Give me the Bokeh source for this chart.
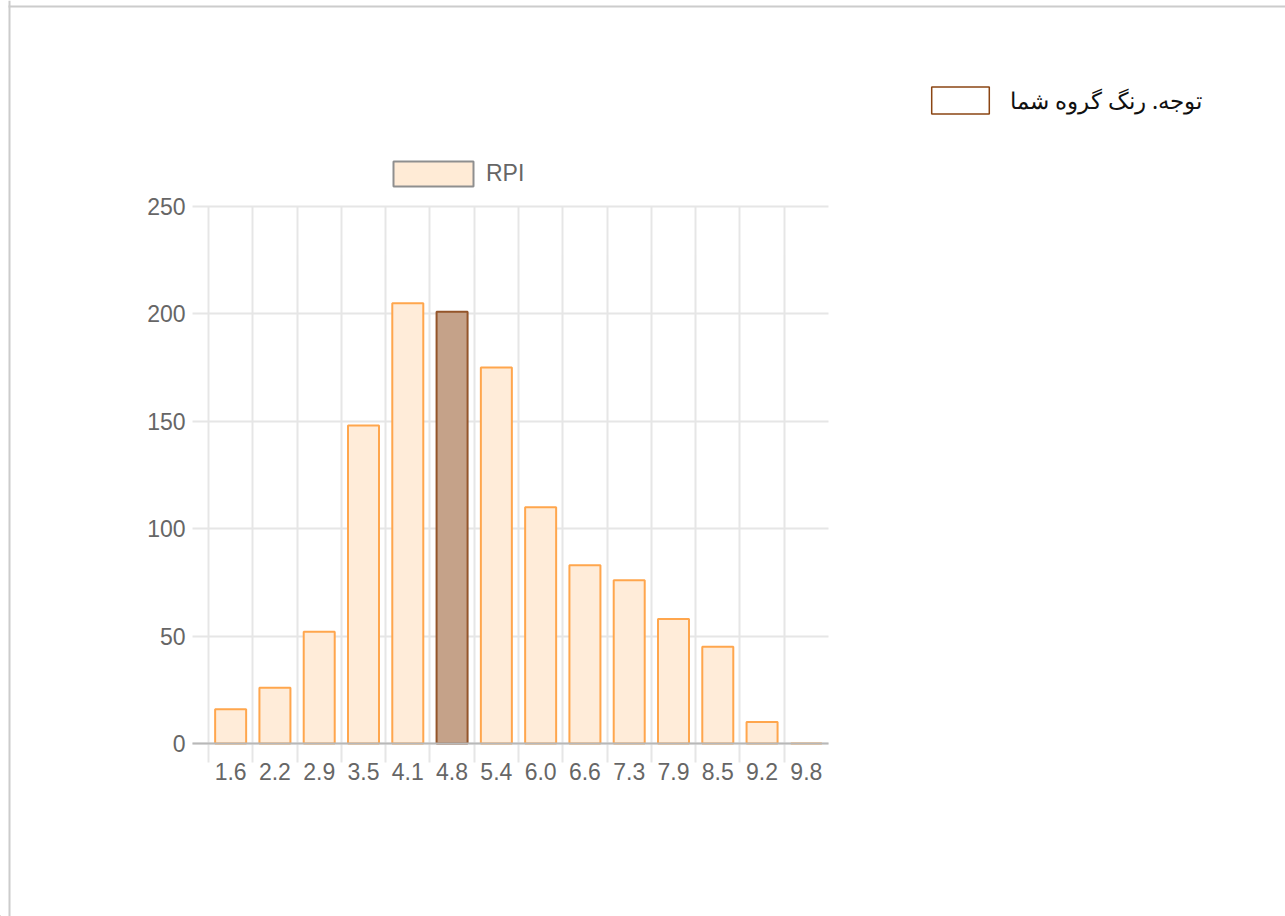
from bokeh.plotting import figure
from bokeh.models import (Range1d, FixedTicker, Legend, LegendItem, LinearAxis,
                          BoxAnnotation, ColumnDataSource)
from bokeh.embed import file_html
from bokeh.resources import INLINE

# ---- data ----
categories = ["1.6", "2.2", "2.9", "3.5", "4.1", "4.8", "5.4", "6.0", "6.6", "7.3", "7.9", "8.5", "9.2", "9.8"]
counts = [16, 26, 52, 148, 205, 201, 175, 110, 83, 76, 58, 45, 10, 0]
highlight = "4.8"
series_name = "RPI"
note_text = "توجه. رنگ گروه شما"
y_ticks = [0, 50, 100, 150, 200, 250]

# ---- styles ----
base_fill, base_line = "#ffecd9", "#ffa64d"
hl_fill, hl_line = "#c5a289", "#94552a"
grid_col = "#e6e6e6"
txt_col = "#666666"

W, H = 1285, 916
n = len(categories)
# layout anchors (page pixels): plot area 208..828 wide, value 0 at 743, 250 at 206
PX_L, PX_R, PY_0, PY_TOP, PY_BOT, PX_TICK = 208.0, 828.0, 743.0, 206.0, 762.0, 192.0
dx = (PX_R - PX_L) / n
dy = (PY_0 - PY_TOP) / y_ticks[-1]
x_start = -0.5 - PX_L / dx
y_top = PY_0 / dy


def xd(px):
    return x_start + px / dx


def yd(py):
    return y_top - py / dy


p = figure(x_range=Range1d(x_start, x_start + W / dx), y_range=Range1d(yd(H), y_top),
           width=W, height=H, output_backend="svg", toolbar_location=None,
           min_border=0, x_axis_location=None, y_axis_location=None)
p.outline_line_color = None
p.grid.visible = False

xs = list(range(n))
fills = [hl_fill if c == highlight else base_fill for c in categories]
lines = [hl_line if c == highlight else base_line for c in categories]
src = ColumnDataSource(dict(x=xs, top=counts, fill=fills, line=lines))

# vertical grid lines at category boundaries (drawn as long ticks of a hidden axis)
vgrid = LinearAxis(ticker=FixedTicker(ticks=[i - 0.5 for i in range(n)]),
                   fixed_location=yd(PY_BOT), level="underlay")
vgrid.axis_line_color = None
vgrid.minor_tick_line_color = None
vgrid.major_tick_in = int(PY_BOT - PY_TOP)
vgrid.major_tick_out = 0
vgrid.major_tick_line_color = grid_col
vgrid.major_tick_line_width = 2
vgrid.major_label_text_alpha = 0
p.add_layout(vgrid, "below")

# y axis with labels; its ticks form the horizontal grid lines
yax = LinearAxis(ticker=FixedTicker(ticks=y_ticks), fixed_location=xd(PX_TICK), level="underlay")
yax.axis_line_color = None
yax.minor_tick_line_color = None
yax.major_tick_in = int(PX_R - PX_TICK)
yax.major_tick_out = 0
yax.major_tick_line_color = grid_col
yax.major_tick_line_width = 2
yax.major_label_standoff = 7
yax.major_label_text_font = "Liberation Sans"
yax.major_label_text_font_size = "23px"
yax.major_label_text_color = txt_col
p.add_layout(yax, "left")

p.vbar(x="x", top="top", bottom=0, width=0.7, source=src,
       fill_color="fill", line_color="line", line_width=2)

# zero line
p.add_layout(BoxAnnotation(left=xd(PX_TICK), right=xd(PX_R), top=yd(PY_0 - 1), bottom=yd(PY_0 + 1),
                           fill_color="#b8b8b8", fill_alpha=1, line_color=None))

# category labels
xax = LinearAxis(ticker=FixedTicker(ticks=xs), fixed_location=yd(PY_BOT),
                 major_label_overrides={i: c for i, c in zip(xs, categories)})
xax.axis_line_color = None
xax.major_tick_line_color = None
xax.minor_tick_line_color = None
xax.major_tick_in = 0
xax.major_tick_out = 0
xax.major_label_standoff = 0
xax.major_label_text_font = "Liberation Sans"
xax.major_label_text_font_size = "23px"
xax.major_label_text_color = txt_col
p.add_layout(xax, "below")

# legend swatches (dummy glyphs placed far outside the visible range)
r_leg = p.vbar(x=[-1000], top=[-1000], bottom=[-1001], width=0.7,
               fill_color="#ffebd6", line_color="#8f8f8f", line_width=2)
r_note = p.vbar(x=[-1000], top=[-1000], bottom=[-1001], width=0.7,
                fill_color="white", line_color="#8b4513", line_width=1.5)

leg = Legend(items=[LegendItem(label=series_name, renderers=[r_leg])],
             location=(383, H - 189), orientation="horizontal",
             glyph_width=100, glyph_height=31, label_height=31, label_standoff=3,
             padding=0, margin=0, spacing=0, border_line_color=None,
             background_fill_alpha=0, label_text_font="Liberation Sans",
             label_text_font_size="23px", label_text_color=txt_col)
p.add_layout(leg)

note = Legend(items=[LegendItem(label=note_text, renderers=[r_note])],
              location=(924, H - 117), orientation="horizontal",
              glyph_width=72, glyph_height=34, label_height=34, label_standoff=14,
              padding=0, margin=0, spacing=0, border_line_color=None,
              background_fill_alpha=0, label_text_font="Noto Sans",
              label_text_font_size="23px", label_text_color="#111111")
p.add_layout(note)

# page border lines
p.add_layout(BoxAnnotation(left=xd(8), right=xd(10), fill_color="#cccccc",
                           fill_alpha=1, line_color=None))
p.add_layout(BoxAnnotation(left=xd(8), top=yd(5), bottom=yd(7), fill_color="#cccccc",
                           fill_alpha=1, line_color=None))

open("out.html", "w").write(file_html(p, INLINE))
